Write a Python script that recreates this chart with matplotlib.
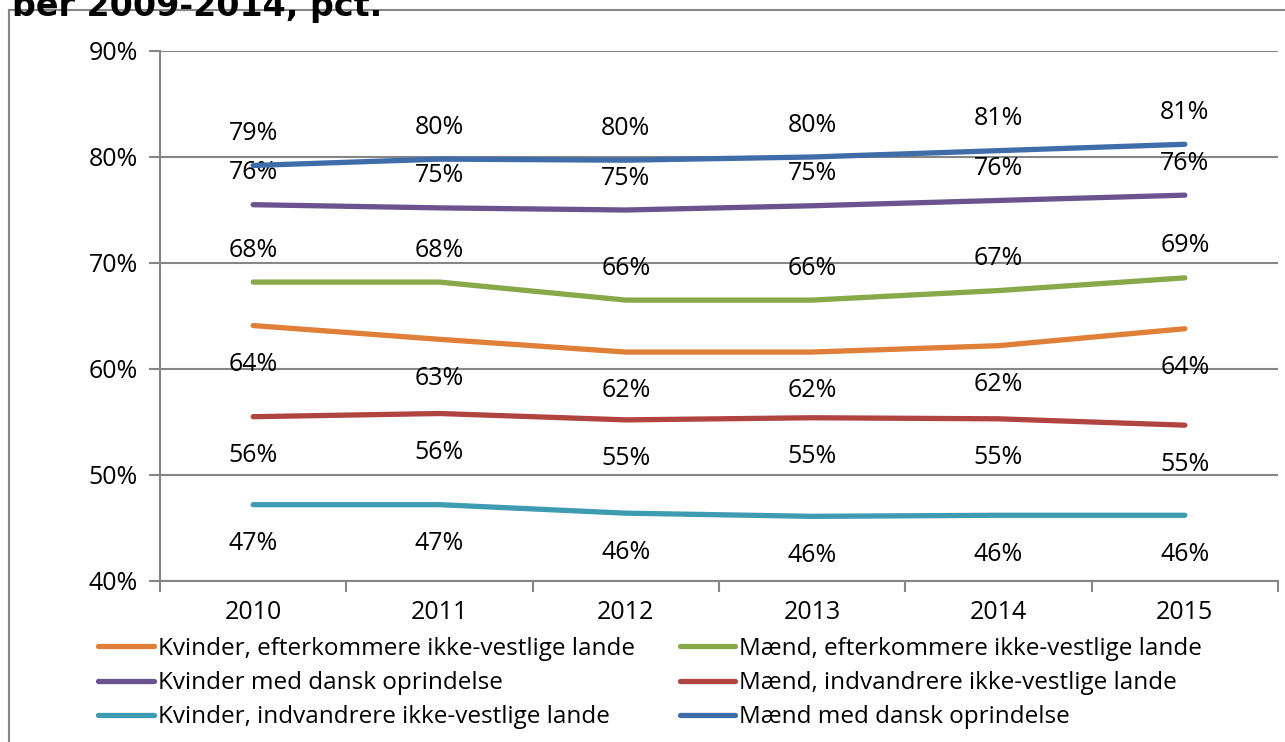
import numpy as np
import matplotlib
matplotlib.use("Agg")
import matplotlib.pyplot as plt
from matplotlib.patches import Rectangle
from matplotlib.ticker import FuncFormatter

# ==========================================
# DATA
# ==========================================
years = ["2010", "2011", "2012", "2013", "2014", "2015"]

kvinder_efterkommere = [64.1, 62.8, 61.6, 61.6, 62.2, 63.8]
maend_efterkommere = [68.2, 68.2, 66.5, 66.5, 67.4, 68.6]
kvinder_dansk = [75.5, 75.2, 75.0, 75.4, 75.9, 76.4]
maend_indvandrere = [55.5, 55.8, 55.2, 55.4, 55.3, 54.7]
kvinder_indvandrere = [47.2, 47.2, 46.4, 46.1, 46.2, 46.2]
maend_dansk = [79.2, 79.8, 79.7, 80.0, 80.6, 81.2]

# (label, values, colour, label position: +1 above / -1 below)
series = [
    ("Kvinder, efterkommere ikke-vestlige lande", kvinder_efterkommere, "#E07F37", -1),
    ("Kvinder med dansk oprindelse", kvinder_dansk, "#6B5390", 1),
    ("Kvinder, indvandrere ikke-vestlige lande", kvinder_indvandrere, "#3D9BB2", -1),
    ("Mænd, efterkommere ikke-vestlige lande", maend_efterkommere, "#88A94A", 1),
    ("Mænd, indvandrere ikke-vestlige lande", maend_indvandrere, "#B04441", -1),
    ("Mænd med dansk oprindelse", maend_dansk, "#3F6DA9", 1),
]

plt.rcParams["font.family"] = ["Open Sans", "DejaVu Sans"]
GRID = "#868686"
FS = 18

fig = plt.figure(figsize=(12.85, 7.42), dpi=100)
ax = fig.add_axes([160 / 1285, 1 - 581 / 742, 1118 / 1285, 530 / 742])

# outer chart frame (cropped on right and bottom)
fig.patches.append(Rectangle((8.5 / 1285, -0.1), 1.2, 1 - 10 / 742 + 0.1,
                             transform=fig.transFigure, fill=False,
                             edgecolor=GRID, linewidth=1.5, zorder=0))

# cropped title
fig.text(12 / 1285, 1 - 16 / 742, "ber 2009-2014, pct.", fontsize=24,
         fontweight="bold", ha="left", va="baseline", family="DejaVu Sans")

x = np.arange(len(years))
for label, vals, color, pos in series:
    ax.plot(x, vals, color=color, linewidth=3.8, solid_capstyle="round",
            label=label, zorder=3)
    off = 23 if pos > 0 else -28
    for xi, v in zip(x, vals):
        ax.annotate(f"{round(v):.0f}%", (xi, v), xytext=(0, off),
                    textcoords="offset points", ha="center", va="center",
                    fontsize=FS, color="black")

ax.set_xlim(-0.5, 5.5)
ax.set_ylim(40, 90)
ax.set_yticks(np.arange(40, 91, 10))
ax.yaxis.set_major_formatter(FuncFormatter(lambda v, p: f"{v:.0f}%"))
ax.grid(axis="y", color=GRID, linewidth=1.5, zorder=1)
ax.set_axisbelow(True)

# x: category labels at centres, tick marks at boundaries
ax.set_xticks(x)
ax.set_xticklabels(years)
ax.set_xticks(np.arange(-0.5, 6, 1), minor=True)
ax.tick_params(axis="x", which="major", length=0, pad=14, labelsize=FS)
ax.tick_params(axis="x", which="minor", length=8, width=1.5, color=GRID)
ax.tick_params(axis="y", length=8, width=1.5, color=GRID, labelsize=FS, pad=8)

for s in ["top", "right"]:
    ax.spines[s].set_visible(False)
for s in ["left", "bottom"]:
    ax.spines[s].set_color(GRID)
    ax.spines[s].set_linewidth(1.5)

leg = fig.legend(loc="upper left", bbox_to_anchor=(98 / 1285, 1 - 637 / 742),
                 ncol=2, frameon=False, fontsize=17.5, handlelength=2.3,
                 handletextpad=0.15, columnspacing=1.85, labelspacing=0.42,
                 borderaxespad=0, borderpad=0)
for h in leg.get_lines():
    h.set_linewidth(3.8)
    h.set_solid_capstyle("round")

fig.savefig("out.png", dpi=100)
